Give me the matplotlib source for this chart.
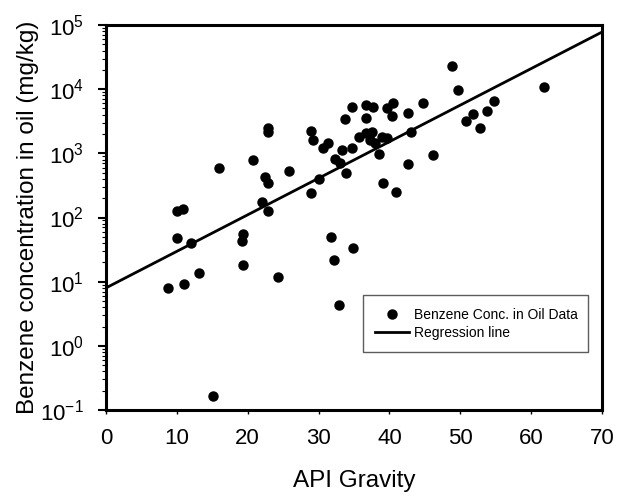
import matplotlib
matplotlib.use("Agg")
import matplotlib.pyplot as plt
import numpy as np

plt.rcParams['font.family'] = ['Liberation Sans', 'DejaVu Sans']
plt.rcParams['mathtext.fontset'] = 'custom'
plt.rcParams['mathtext.rm'] = 'Liberation Sans'
plt.rcParams['mathtext.it'] = 'Liberation Sans'

# Datos: gravedad API y log10 de la concentracion de benceno (mg/kg)
api = [9.98, 10.91, 15.99, 20.70, 22.82, 22.82, 22.44, 22.90, 25.83, 21.97,
       22.90, 28.89, 29.26, 30.67, 31.29, 30.06, 28.89, 33.73, 34.76, 35.70,
       34.76, 33.26, 32.32, 33.02, 33.87, 48.79, 49.72, 61.81, 54.76, 53.81,
       51.83, 50.80, 52.78, 44.69, 42.66, 43.00, 46.10, 42.66, 39.13, 40.88,
       36.69, 37.64, 39.61, 40.46, 40.32, 36.69, 36.69, 37.50, 37.26, 37.96,
       38.91, 39.61, 38.57, 10.06, 11.95, 8.71, 11.05, 13.17, 19.38, 19.15,
       19.29, 24.32, 15.06, 31.75, 34.90, 32.22, 32.92]
log_benceno = [2.107, 2.129, 2.773, 2.897, 3.391, 3.338, 2.637, 2.534, 2.730, 2.248,
               2.107, 3.354, 3.209, 3.079, 3.167, 2.597, 2.379, 3.531, 3.718, 3.260,
               3.079, 3.053, 2.908, 2.846, 2.699, 4.361, 3.988, 4.039, 3.821, 3.665,
               3.614, 3.505, 3.400, 3.790, 3.625, 3.338, 2.975, 2.835, 2.544, 2.394,
               3.754, 3.727, 3.702, 3.780, 3.583, 3.547, 3.322, 3.338, 3.209, 3.157,
               3.260, 3.235, 2.991, 1.678, 1.609, 0.899, 0.966, 1.132, 1.745, 1.640,
               1.262, 1.079, -0.779, 1.702, 1.522, 1.340, 0.639]
benceno = 10 ** np.array(log_benceno)

# Linea de regresion: log10(C) = a + b * API
reg_a = 0.903
reg_b = 0.05696
reg_x = np.array([0, 70])
reg_y = 10 ** (reg_a + reg_b * reg_x)

fig = plt.figure(figsize=(6.17, 5.0), dpi=100)
ax = fig.add_axes([106/617, 1 - 410/500, 496/617, 385/500])

ax.plot(api, benceno, 'o', color='black', markersize=6.5,
        label='Benzene Conc. in Oil Data')
ax.plot(reg_x, reg_y, '-', color='black', linewidth=2.0, label='Regression line')

ax.set_yscale('log')
ax.set_xlim(0, 70)
ax.set_ylim(1e-1, 1e5)
ax.set_xticks(range(0, 71, 10))
ax.set_yticks([10.0 ** k for k in range(-1, 6)])

for s in ax.spines.values():
    s.set_linewidth(2.2)
ax.tick_params(axis='x', which='major', direction='out', length=3, width=1,
               pad=10, labelsize=16)
ax.tick_params(axis='y', which='major', direction='out', length=6, width=1.5,
               pad=10, labelsize=16)
ax.tick_params(axis='y', which='minor', direction='out', length=3, width=0.8)

ax.set_xlabel('API Gravity', fontsize=17.5, labelpad=15)
ax.set_ylabel('Benzene concentration in oil (mg/kg)', fontsize=17.5, labelpad=1)

leg = ax.legend(loc='center', bbox_to_anchor=(0.518, 0.149, 0.453, 0.15),
                mode='expand', borderaxespad=0, fontsize=10, frameon=True,
                fancybox=False, handlelength=2.4, borderpad=0.9,
                labelspacing=0.3, handletextpad=0.4)
leg.get_frame().set_edgecolor('#333333')
leg.get_frame().set_linewidth(1.0)

fig.savefig('out.png', dpi=100)
